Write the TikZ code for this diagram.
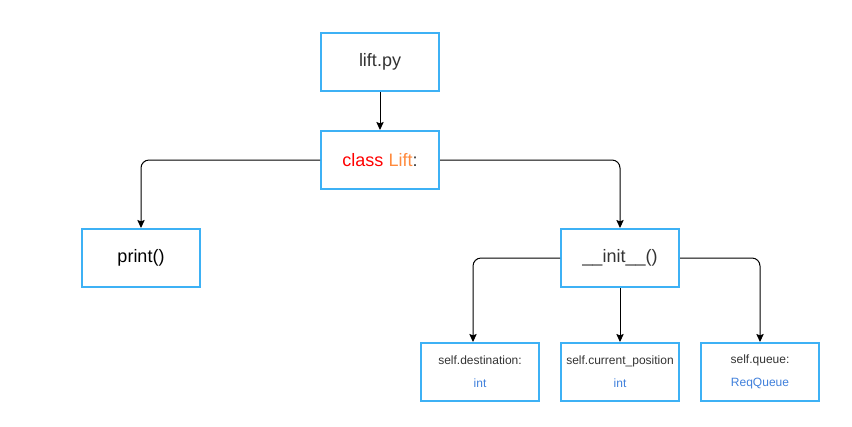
\documentclass[tikz,border=0pt]{standalone}
\usepackage{fontspec}
\setmainfont{Liberation Sans}
\usepackage{tikz}
\usetikzlibrary{arrows.meta}
\usetikzlibrary{positioning}
\definecolor{boxblue}{HTML}{3DB1F5}
\definecolor{typeblue}{HTML}{3F7FDB}
\definecolor{kwred}{HTML}{FF0000}
\definecolor{clsorange}{HTML}{FF8A3D}
\definecolor{txtgray}{HTML}{333333}
\tikzstyle{line} = [draw, -{Stealth[length=6pt,width=5.5pt,inset=1pt]}, rounded corners=6pt, line width=0.75pt]
\tikzset{
    pybox/.style={draw=boxblue, line width=1.5pt, minimum width=88.5pt, minimum height=43.5pt,
        inner sep=0pt, text=txtgray, font=\fontsize{13.5}{16}\selectfont},
    attrbox/.style={pybox, align=center, font=\fontsize{9}{17.5}\selectfont},
}

\begin{document}
\begin{tikzpicture}[x=0.75pt, y=-0.75pt]
	\useasboundingbox (0,0) rectangle (852,426);
	\node[pybox] (liftpy) at (380,62) {lift.py};
	\node[pybox] (cls) at (380,160) {\textcolor{kwred}{class} \textcolor{clsorange}{Lift}:};
	\node[pybox, text=black] (print) at (141,258) {print()};
	\node[pybox] (init) at (620,258) {\_\_init\_\_()};
	\node[attrbox] (dest) at (480,372) {self.destination:\\\textcolor{typeblue}{int}};
	\node[attrbox] (curpos) at (620,372) {self.current\_position\\\textcolor{typeblue}{int}};
	\node[attrbox] (queue) at (760,372) {self.queue:\\\textcolor{typeblue}{ReqQueue}};
	\path[line] (liftpy) -- (cls);
	\path[line] (cls.west) -| (print.north);
	\path[line] (cls.east) -| (init.north);
	\path[line] (init.west) -| ([xshift=-5.25pt]dest.north);
	\path[line] (init) -- (curpos);
	\path[line] (init.east) -| (queue.north);
\end{tikzpicture}
\end{document}
